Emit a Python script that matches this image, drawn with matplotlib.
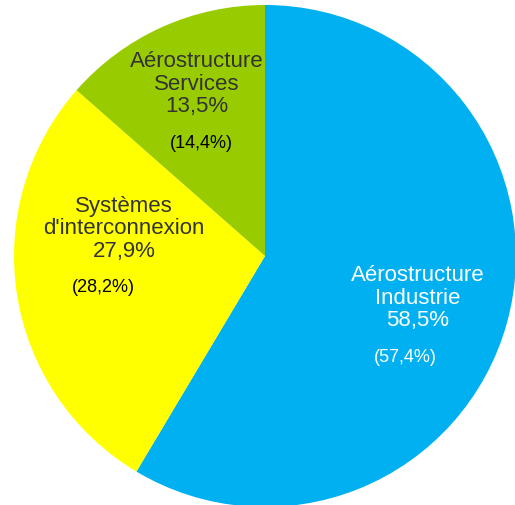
import matplotlib
matplotlib.use("Agg")
import matplotlib.pyplot as plt

categories = ["Aérostructure\nIndustrie", "Systèmes\nd'interconnexion", "Aérostructure\nServices"]
values = [58.5, 27.9, 13.5]
previous = [57.4, 28.2, 14.4]
colors = ["#00B0F0", "#FFFF00", "#99CC00"]
text_colors = ["white", "#333333", "#333333"]

W, H = 515, 506
fig = plt.figure(figsize=(W / 100, H / 100), dpi=100)
ax = fig.add_axes([0, 0, 1, 1])

ax.pie(values, colors=colors, startangle=90, counterclock=False,
       center=(265, H - 257), radius=251, frame=True,
       wedgeprops=dict(linewidth=0))
ax.set_xlim(0, W)
ax.set_ylim(0, H)
ax.axis("off")

# label anchor positions (pixel coords of reference)
label_pos = [(418, 298), (124, 229), (197, 84)]
paren_pos = [(405, 357), (103, 288), (201, 143)]

fam = ['Liberation Sans', 'DejaVu Sans']
for cat, v, p, tc, lp, pp in zip(categories, values, previous, text_colors, label_pos, paren_pos):
    txt = f"{cat}\n{v:.1f}%".replace(".", ",")
    ax.text(lp[0], H - lp[1], txt, ha="center", va="center", fontsize=16,
            color=tc, linespacing=1.1, family=fam)
    ax.text(pp[0], H - pp[1], f"({p:.1f}%)".replace(".", ","), ha="center", va="center",
            fontsize=13, color=tc if tc == "white" else "black", family=fam)

fig.savefig("out.png", dpi=100)
